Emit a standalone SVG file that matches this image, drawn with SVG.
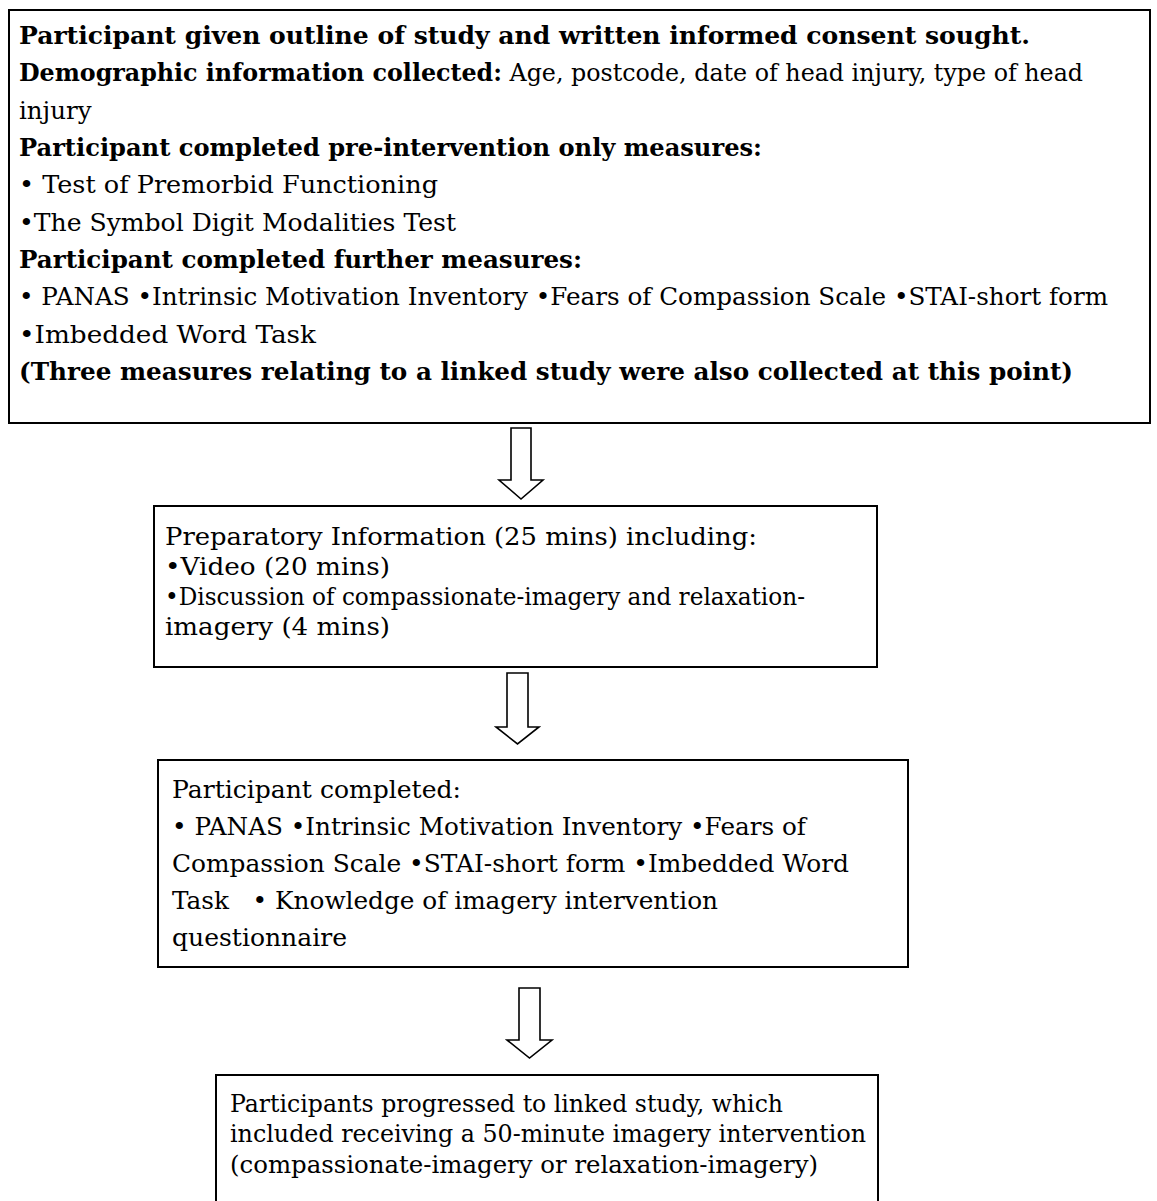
<svg xmlns="http://www.w3.org/2000/svg" width="1157" height="1201" viewBox="0 0 1157 1201">
<style>
.box{fill:#fff;stroke:#000;stroke-width:2}
.arr{fill:#fff;stroke:#000;stroke-width:1.6;stroke-linejoin:miter}
text{font-family:"DejaVu Serif","Liberation Serif",serif;font-size:24.5px;fill:#000}
.b{font-weight:bold}
</style>
<rect width="1157" height="1201" fill="#fff"/>
<g id="node-consent">
<rect class="box" x="9" y="10" width="1141" height="413"/>
<text x="19" y="44" class="b" textLength="1011" lengthAdjust="spacingAndGlyphs">Participant given outline of study and written informed consent sought.</text>
<text x="19" y="81" textLength="1064" lengthAdjust="spacingAndGlyphs"><tspan class="b">Demographic information collected:</tspan> Age, postcode, date of head injury, type of head</text>
<text x="19" y="119">injury</text>
<text x="19" y="156" class="b" textLength="743" lengthAdjust="spacingAndGlyphs">Participant completed pre-intervention only measures:</text>
<text x="19" y="193" textLength="419" lengthAdjust="spacingAndGlyphs">• Test of Premorbid Functioning</text>
<text x="19" y="231" textLength="437" lengthAdjust="spacingAndGlyphs">•The Symbol Digit Modalities Test</text>
<text x="19" y="268" class="b" textLength="563" lengthAdjust="spacingAndGlyphs">Participant completed further measures:</text>
<text x="19" y="305" textLength="1089" lengthAdjust="spacingAndGlyphs">• PANAS •Intrinsic Motivation Inventory •Fears of Compassion Scale •STAI-short form</text>
<text x="19" y="343" textLength="297" lengthAdjust="spacingAndGlyphs">•Imbedded Word Task</text>
<text x="19" y="380" class="b" textLength="1054" lengthAdjust="spacingAndGlyphs">(Three measures relating to a linked study were also collected at this point)</text>
</g>
<g id="node-preparatory">
<rect class="box" x="154" y="506" width="723" height="161"/>
<text x="165" y="545" textLength="592" lengthAdjust="spacingAndGlyphs">Preparatory Information (25 mins) including:</text>
<text x="165" y="575" textLength="225" lengthAdjust="spacingAndGlyphs">•Video (20 mins)</text>
<text x="165" y="605" textLength="640" lengthAdjust="spacingAndGlyphs">•Discussion of compassionate-imagery and relaxation-</text>
<text x="165" y="635" textLength="225" lengthAdjust="spacingAndGlyphs">imagery (4 mins)</text>
</g>
<g id="node-completed">
<rect class="box" x="158" y="760" width="750" height="207"/>
<text x="172" y="798" textLength="289" lengthAdjust="spacingAndGlyphs">Participant completed:</text>
<text x="172" y="835" textLength="634" lengthAdjust="spacingAndGlyphs">• PANAS •Intrinsic Motivation Inventory •Fears of</text>
<text x="172" y="872" textLength="677" lengthAdjust="spacingAndGlyphs">Compassion Scale •STAI-short form •Imbedded Word</text>
<text x="172" y="909" xml:space="preserve" textLength="546" lengthAdjust="spacingAndGlyphs">Task   • Knowledge of imagery intervention</text>
<text x="172" y="946" textLength="175" lengthAdjust="spacingAndGlyphs">questionnaire</text>
</g>
<g id="node-linked">
<rect class="box" x="216" y="1075" width="662" height="140"/>
<text x="230" y="1112" textLength="553" lengthAdjust="spacingAndGlyphs">Participants progressed to linked study, which</text>
<text x="230" y="1142" textLength="636" lengthAdjust="spacingAndGlyphs">included receiving a 50-minute imagery intervention</text>
<text x="230" y="1173" textLength="588" lengthAdjust="spacingAndGlyphs">(compassionate-imagery or relaxation-imagery)</text>
</g>
<g id="connectors">
<polygon class="arr" points="511,428 531,428 531,480 543,480 521,499 499,480 511,480"/>
<polygon class="arr" points="507,673 528,673 528,727 539,727 517.5,744 496,727 507,727"/>
<polygon class="arr" points="519,988 540,988 540,1040 552,1040 529.5,1058 507,1040 519,1040"/>
</g>
</svg>
